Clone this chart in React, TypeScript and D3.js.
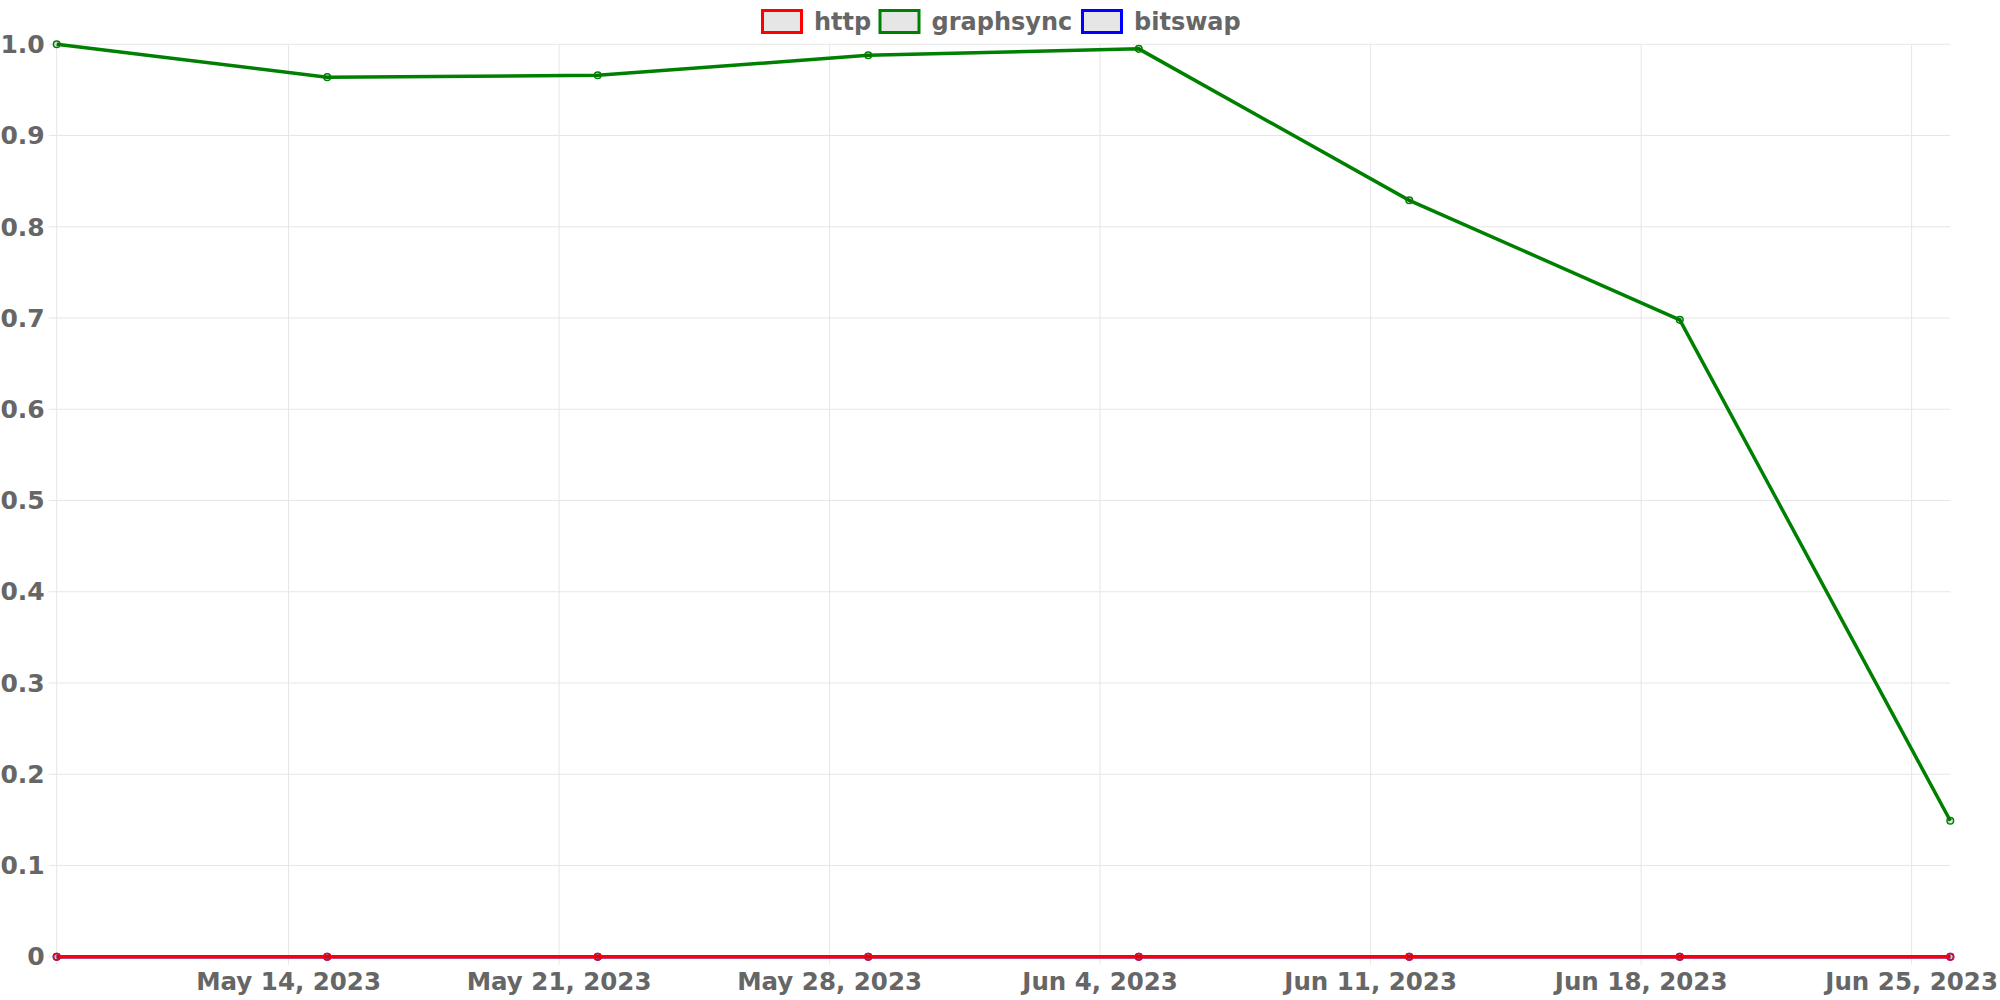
import React, { useEffect, useRef } from 'react';
import * as d3 from 'd3';

// weekly samples
const dates = ['2023-05-08', '2023-05-15', '2023-05-22', '2023-05-29', '2023-06-05', '2023-06-12', '2023-06-19', '2023-06-26'];
const httpValues = [0, 0, 0, 0, 0, 0, 0, 0];
const graphsyncValues = [1.0, 0.964, 0.966, 0.988, 0.995, 0.829, 0.698, 0.149];
const bitswapValues = [0, 0, 0, 0, 0, 0, 0, 0];
const seriesNames = ['http', 'graphsync', 'bitswap'];
const seriesColors = ['red', 'green', 'blue'];
const xTickDates = ['2023-05-14', '2023-05-21', '2023-05-28', '2023-06-04', '2023-06-11', '2023-06-18', '2023-06-25'];
const yTicks = [0, 0.1, 0.2, 0.3, 0.4, 0.5, 0.6, 0.7, 0.8, 0.9, 1.0];

const App = () => {
    const ref = useRef<SVGSVGElement | null>(null);

    useEffect(() => {
        const width = 2000;
        const height = 1000;
        const margin = { top: 44.3, right: 49.7, bottom: 43.3, left: 56.7 };
        const font = '"DejaVu Sans", sans-serif';
        const textColor = '#666';
        const gridColor = '#e6e6e6';

        const svg = d3.select(ref.current);
        svg.selectAll('*').remove();

        const parse = d3.timeParse('%Y-%m-%d');
        const xDates = dates.map(d => parse(d) as Date);

        const x = d3.scaleTime()
            .domain(d3.extent(xDates) as [Date, Date])
            .range([margin.left, width - margin.right]);
        const y = d3.scaleLinear()
            .domain([0, 1])
            .range([height - margin.bottom, margin.top]);

        // horizontal grid + y labels
        const gy = svg.append('g');
        yTicks.forEach(t => {
            gy.append('line')
                .attr('x1', margin.left - 8).attr('x2', width - margin.right)
                .attr('y1', y(t)).attr('y2', y(t))
                .attr('stroke', gridColor).attr('stroke-width', 1);
            gy.append('text')
                .attr('x', margin.left - 12).attr('y', y(t))
                .attr('dy', '0.35em')
                .attr('text-anchor', 'end')
                .attr('font-family', font).attr('font-weight', 'bold')
                .attr('font-size', 25).attr('fill', textColor)
                .text(t === 0 ? '0' : d3.format('.1f')(t));
        });

        // vertical grid + x labels
        const gx = svg.append('g');
        gx.append('line')
            .attr('x1', margin.left).attr('x2', margin.left)
            .attr('y1', margin.top).attr('y2', height - margin.bottom + 8)
            .attr('stroke', gridColor);
        const fmt = d3.timeFormat('%b %-d, %Y');
        xTickDates.map(d => parse(d) as Date).forEach(d => {
            gx.append('line')
                .attr('x1', x(d)).attr('x2', x(d))
                .attr('y1', margin.top).attr('y2', height - margin.bottom + 8)
                .attr('stroke', gridColor);
            gx.append('text')
                .attr('x', x(d)).attr('y', 990)
                .attr('text-anchor', 'middle')
                .attr('font-family', font).attr('font-weight', 'bold')
                .attr('font-size', 24.5).attr('fill', textColor)
                .text(fmt(d));
        });

        // lines, drawn so http ends up on top
        const allValues = [httpValues, graphsyncValues, bitswapValues];
        const line = d3.line<number>()
            .x((_, i) => x(xDates[i]))
            .y(v => y(v));

        [2, 1, 0].forEach(s => {
            const g = svg.append('g');
            g.append('path')
                .datum(allValues[s])
                .attr('d', line)
                .attr('fill', 'none')
                .attr('stroke', seriesColors[s])
                .attr('stroke-width', 3.5);
            g.selectAll('circle')
                .data(allValues[s])
                .enter()
                .append('circle')
                .attr('cx', (_, i) => x(xDates[i]))
                .attr('cy', v => y(v))
                .attr('r', 3.3)
                .attr('fill', 'rgba(0,0,0,0.1)')
                .attr('stroke', seriesColors[s])
                .attr('stroke-width', 1.5);
        });

        // legend
        const legendX = [761, 878.5, 1081];
        const leg = svg.append('g');
        seriesNames.forEach((name, i) => {
            leg.append('rect')
                .attr('x', legendX[i] + 1.5).attr('y', 10.5)
                .attr('width', 39).attr('height', 22)
                .attr('fill', '#e6e6e6')
                .attr('stroke', seriesColors[i]).attr('stroke-width', 3);
            leg.append('text')
                .attr('x', legendX[i] + 53).attr('y', 22)
                .attr('dy', '0.35em')
                .attr('font-family', font).attr('font-weight', 'bold')
                .attr('font-size', 24).attr('fill', textColor)
                .text(name);
        });
    }, []);

    return (
        <div style={{ position: 'absolute', left: 0, top: 0 }}>
            <svg ref={ref} width={2000} height={1000} style={{ display: 'block', background: '#fff' }} />
        </div>
    );
};

export default App;
